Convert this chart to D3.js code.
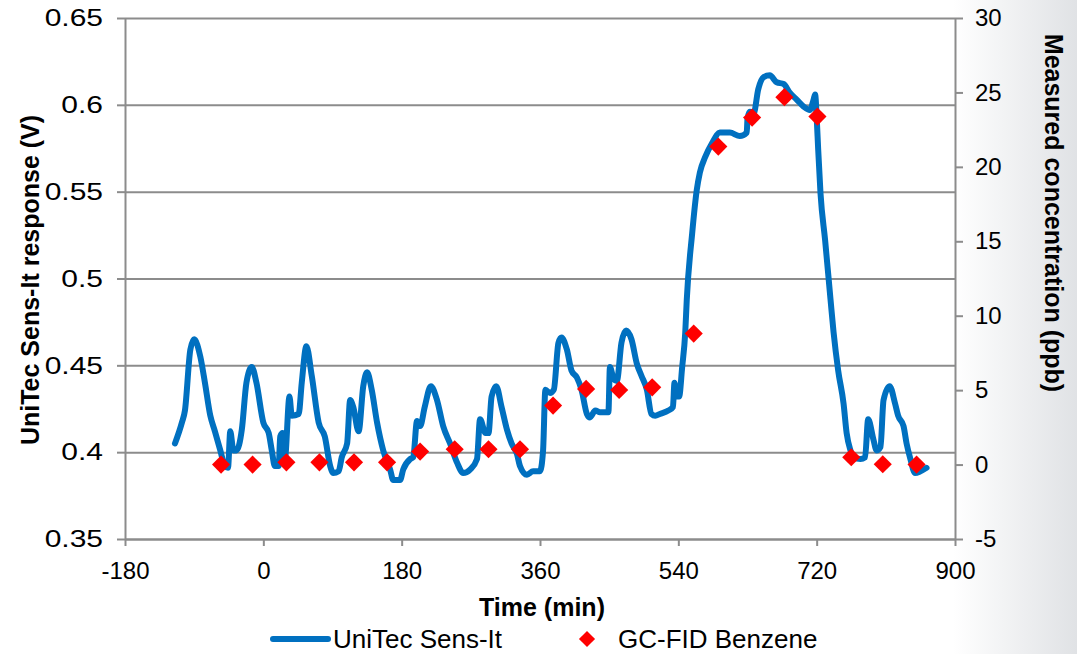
<!DOCTYPE html>
<html>
<head>
<meta charset="utf-8">
<script src="https://cdn.jsdelivr.net/npm/d3@7"></script>
<style>
  body { margin: 0; background: #fff; }
  text { font-family: Arial, "Liberation Sans", sans-serif; fill: #000; }
  .axis path, .axis line { stroke: #8c8c8c; stroke-width: 2; }
  .axis text { font-size: 24px; }
  .grid line { stroke: #8c8c8c; stroke-width: 2; }
  .grid path { display: none; }
</style>
</head>
<body>
<div id="canvas"></div>
<script>
// ---- DATA ----
var sensorTime = [-115,-106,-102,-95,-90,-82,-76,-69,-63,-56,-50,-46,-43,-39,-35,-28,-22,-15,-9,0,
  7,11,15,20,22,25,28,34,37,46,50,56,63,72,80,87,91,98,102,109,113,117,124,130,135,141,148,156,165,169,
  178,182,191,195,200,204,210,218,226,234,243,252,260,269,278,282,289,293,297,303,310,317,323,330,334,343,351,360,364,367,
  373,378,384,388,395,401,408,414,421,425,432,438,449,451,456,460,466,472,479,486,492,499,505,510,516,527,533,535,538,541,
  545,549,551,558,564,568,575,584,594,607,620,629,630,633,638,644,651,659,668,677,685,694,703,711,716,718,720,722,725,731,
  738,742,748,755,759,764,768,777,783,787,794,798,803,807,815,822,826,833,837,842,848,855,863];
var sensorVolt = [0.405,0.417,0.424,0.459,0.465,0.455,0.440,0.421,0.412,0.401,0.392,0.391,0.412,0.401,0.401,0.413,0.440,0.449,0.440,0.417,
  0.411,0.401,0.392,0.392,0.409,0.411,0.396,0.432,0.421,0.422,0.440,0.461,0.444,0.417,0.409,0.392,0.388,0.389,0.397,0.405,0.430,0.426,0.412,0.438,0.446,0.436,0.417,0.401,0.390,0.384,
  0.384,0.390,0.396,0.397,0.418,0.415,0.426,0.438,0.430,0.415,0.405,0.394,0.388,0.390,0.396,0.419,0.411,0.411,0.432,0.438,0.426,0.413,0.405,0.399,0.392,0.387,0.389,0.389,0.401,0.436,
  0.434,0.436,0.463,0.466,0.459,0.447,0.443,0.436,0.422,0.420,0.424,0.423,0.423,0.449,0.442,0.441,0.463,0.470,0.465,0.451,0.444,0.436,0.422,0.421,0.422,0.424,0.426,0.440,0.432,0.432,
  0.449,0.469,0.488,0.526,0.551,0.561,0.570,0.578,0.584,0.584,0.582,0.584,0.592,0.596,0.595,0.609,0.616,0.617,0.613,0.612,0.607,0.603,0.599,0.597,0.603,0.606,0.593,0.574,0.549,0.522,
  0.488,0.469,0.447,0.428,0.411,0.401,0.397,0.396,0.397,0.419,0.407,0.401,0.403,0.430,0.438,0.428,0.421,0.415,0.405,0.396,0.388,0.389,0.391];

var gcTime = [-55,-14,30,73,118,161,204,249,293,334,377,420,463,506,560,592,636,678,721,765,806,850];
var gcPpb  = [0.0,0.0,0.15,0.15,0.15,0.15,0.87,1.03,1.03,1.03,3.96,5.08,5.01,5.19,8.8,21.36,23.31,24.68,23.38,0.49,0.02,0.0];

var xTicks  = [-180,0,180,360,540,720,900];
var yTicks  = [0.35,0.4,0.45,0.5,0.55,0.6,0.65];
var y2Ticks = [-5,0,5,10,15,20,25,30];

// ---- LAYOUT ----
var W = 1077, H = 654;
var m = {t:18, r:122, b:115, l:125};
var w = W - m.l - m.r,
    h = H - m.t - m.b;

var svg = d3.select('#canvas').append('svg')
  .attr('width', W).attr('height', H);

// background with soft grey fade on the right
var grad = svg.append('defs').append('linearGradient')
  .attr('id','bg').attr('x1','0').attr('x2','1').attr('y1','0').attr('y2','0');
grad.append('stop').attr('offset','0.885').attr('stop-color','#ffffff');
grad.append('stop').attr('offset','1').attr('stop-color','#e0e2e5');
svg.append('rect').attr('width', W).attr('height', H).attr('fill','url(#bg)');
svg.append('rect').attr('x', m.l).attr('y', m.t).attr('width', w).attr('height', h).attr('fill','#fff');

var plot = svg.append('g').attr('transform','translate(' + m.l + ',' + m.t + ')');

// ---- SCALES ----
var x = d3.scaleLinear().domain([-180, 900]).range([0, w]);
var y = d3.scaleLinear().domain([0.35, 0.65]).range([h, 0]);
var y2 = d3.scaleLinear().domain([-5, 30]).range([h, 0]);

// ---- GRID ----
plot.append('g').attr('class','grid')
  .call(d3.axisLeft(y).tickValues(yTicks).tickSize(-w).tickFormat(''));

// ---- AXES ----
var fmt = function(d){ return String(+d.toFixed(2)).replace('\u2212','-'); };

var sx = 1.25; // left labels are drawn a little wider in the original
plot.append('g').attr('class','axis axis-y')
  .call(d3.axisLeft(y).tickValues(yTicks).tickSize(8).tickSizeOuter(0).tickFormat(fmt))
  .selectAll('text')
  .attr('x', -22 / sx)
  .attr('transform', 'scale(' + sx + ',1)');

plot.append('g').attr('class','axis axis-y2')
  .attr('transform','translate(' + w + ',0)')
  .call(d3.axisRight(y2).tickValues(y2Ticks).tickSize(8).tickSizeOuter(0).tickPadding(12).tickFormat(fmt));

plot.append('g').attr('class','axis axis-x')
  .attr('transform','translate(0,' + h + ')')
  .call(d3.axisBottom(x).tickValues(xTicks).tickSize(7).tickSizeOuter(0).tickPadding(16).tickFormat(fmt));

// ---- SERIES ----
var sensor = sensorTime.map(function(t,i){ return {t:t, v:sensorVolt[i]}; });
var gc = gcTime.map(function(t,i){ return {t:t, p:gcPpb[i]}; });

var line = d3.line()
  .x(function(d){ return x(d.t); })
  .y(function(d){ return y(d.v); })
  .curve(d3.curveMonotoneX);

plot.append('path').datum(sensor)
  .attr('d', line)
  .attr('fill','none')
  .attr('stroke','#0070c0')
  .attr('stroke-width', 6)
  .attr('stroke-linejoin','round')
  .attr('stroke-linecap','round');

var diamond = d3.symbol().type(d3.symbolSquare).size(165);

plot.selectAll('.gc').data(gc).enter().append('path')
  .attr('class','gc')
  .attr('d', diamond)
  .attr('transform', function(d){ return 'translate(' + x(d.t) + ',' + y2(d.p) + ') rotate(45)'; })
  .attr('fill','#ff0000');

// ---- TITLES ----
svg.append('text')
  .attr('x', m.l + w/2 + 2).attr('y', 616)
  .attr('text-anchor','middle')
  .style('font-size','25px').style('font-weight','bold')
  .text('Time (min)');

svg.append('text')
  .attr('transform','translate(39,280) rotate(-90)')
  .attr('text-anchor','middle')
  .style('font-size','25px').style('font-weight','bold')
  .text('UniTec Sens-It response (V)');

svg.append('text')
  .attr('transform','translate(1045,213) rotate(90)')
  .attr('text-anchor','middle')
  .style('font-size','25px').style('font-weight','bold')
  .text('Measured concentration (ppb)');

// ---- LEGEND ----
var lg = svg.append('g').attr('transform','translate(0,639)');
lg.append('line').attr('x1',273).attr('x2',328).attr('y1',0).attr('y2',0)
  .attr('stroke','#0070c0').attr('stroke-width',6).attr('stroke-linecap','round');
lg.append('text').attr('x',333).attr('y',9).style('font-size','26px').text('UniTec Sens-It');
lg.append('path').attr('d', d3.symbol().type(d3.symbolSquare).size(130))
  .attr('transform','translate(587,0) rotate(45)').attr('fill','#ff0000');
lg.append('text').attr('x',618).attr('y',9).style('font-size','26px').text('GC-FID Benzene');
</script>
</body>
</html>
